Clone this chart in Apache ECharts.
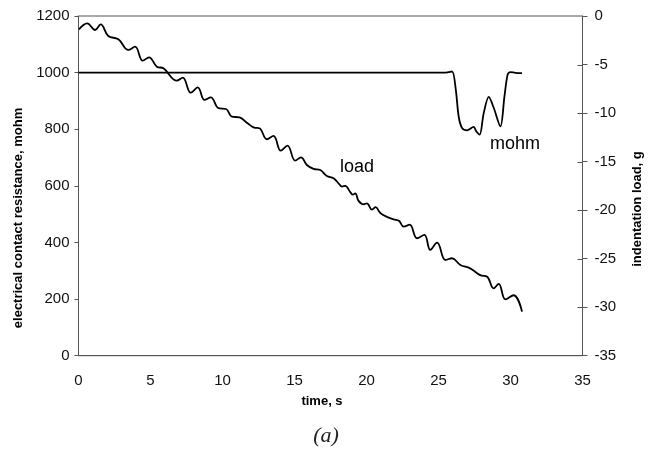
<!DOCTYPE html>
<html>
<head>
<meta charset="utf-8">
<script src="https://cdn.jsdelivr.net/npm/echarts@6/dist/echarts.min.js"></script>
<style>
  html, body { margin: 0; padding: 0; background: #fff; }
  #chart { width: 648px; height: 449px; }
</style>
</head>
<body>
<div id="chart"></div>
<script>
// time (s) and electrical contact resistance (mohm)
const resistanceTime = [0, 25.5, 25.94, 26.2, 26.4, 26.64, 26.98, 27.44, 27.63, 27.86, 28.14, 28.49, 28.84, 29.3, 29.58, 29.8, 29.99, 30.34, 30.8];
const resistanceMohm = [1000, 1000, 1004, 940, 845, 804, 796, 808, 792, 781, 857, 914, 875, 810, 916, 993, 1002, 999, 998];

// time (s) and indentation load (g)
const loadTime = [0.03, 0.61, 1.15, 1.54, 2.07, 2.77, 3.46, 3.93, 4.46, 4.9, 5.44, 5.9, 6.83, 7.24, 7.8, 8.28, 8.75, 9.19, 9.72, 10.25, 10.65, 11.18, 11.69, 12.2, 12.57, 13.08, 13.54, 14.05, 14.51, 15.05, 15.45, 15.86, 16.32, 16.79, 17.25, 17.71, 18.06, 18.3, 18.52, 18.9, 19.05, 19.22, 19.45, 19.8, 20.03, 20.38, 20.63, 20.96, 21.42, 21.88, 22.25, 22.58, 23.0, 23.51, 24.02, 24.43, 24.9, 25.48, 25.94, 26.52, 27.2, 27.9, 28.38, 28.83, 29.18, 29.65, 30.22, 30.8];
const loadGrams = [-1.37, -0.75, -1.44, -0.86, -2.06, -2.4, -3.5, -3.16, -4.6, -4.26, -5.22, -5.39, -6.66, -6.35, -7.9, -7.35, -8.65, -8.38, -9.5, -9.58, -10.37, -10.44, -10.99, -11.5, -11.57, -12.7, -12.36, -13.88, -13.36, -14.9, -14.56, -15.35, -15.75, -15.87, -16.48, -16.72, -17.24, -17.58, -17.5, -18.2, -18.4, -18.27, -19.05, -19.4, -19.3, -19.95, -19.7, -20.3, -20.7, -20.95, -21.1, -21.7, -21.5, -22.9, -22.56, -24.1, -23.35, -25.14, -24.96, -25.65, -26.0, -26.7, -26.86, -28.06, -27.6, -29.2, -28.77, -30.46];

const xTicks = { min: 0, max: 35, step: 5 };
const leftTicks = { min: 0, max: 1200, step: 200 };
const rightTicks = { min: -35, max: 0, step: 5 };

const axisGrey = '#555';
const plotLeft = 78.5, plotRight = 65.5, plotTop = 16, plotBottom = 93.3;
const tickFont = { fontFamily: 'Liberation Sans', fontSize: 15, color: '#111', formatter: v => String(v) };

const chart = echarts.init(document.getElementById('chart'), null, { renderer: 'canvas' });

const labels = [
  { type: 'text', left: 340, top: 158, style: { text: 'load', font: '18px "Liberation Sans"', fill: '#000' } },
  { type: 'text', left: 490, top: 135, style: { text: 'mohm', font: '18px "Liberation Sans"', fill: '#000' } },
  { type: 'text', x: 322, y: 401, style: { text: 'time, s', font: 'bold 13px "Liberation Sans"', fill: '#000', align: 'center', verticalAlign: 'middle' } },
  { type: 'text', x: 18, y: 218, rotation: Math.PI / 2, style: { text: 'electrical contact resistance, mohm', font: 'bold 13px "Liberation Sans"', fill: '#000', align: 'center', verticalAlign: 'middle' } },
  { type: 'text', x: 637, y: 209, rotation: Math.PI / 2, style: { text: 'indentation load, g', font: 'bold 13px "Liberation Sans"', fill: '#000', align: 'center', verticalAlign: 'middle' } },
  { type: 'text', x: 326, y: 436, style: { text: '(a)', font: 'italic 22px "Liberation Serif"', fill: '#222', align: 'center', verticalAlign: 'middle' } }
];

chart.setOption({
  animation: false,
  backgroundColor: '#fff',
  grid: { left: plotLeft, right: plotRight, top: plotTop, bottom: plotBottom, show: true, borderColor: axisGrey, borderWidth: 1 },
  xAxis: {
    type: 'value', min: xTicks.min, max: xTicks.max, interval: xTicks.step,
    axisLine: { show: true, lineStyle: { color: axisGrey, width: 1 } },
    axisTick: { show: false },
    splitLine: { show: false },
    axisLabel: Object.assign({ margin: 18 }, tickFont)
  },
  yAxis: [
    {
      type: 'value', position: 'left', min: leftTicks.min, max: leftTicks.max, interval: leftTicks.step,
      axisLine: { show: true, lineStyle: { color: axisGrey, width: 1 } },
      axisTick: { show: true, length: 4, lineStyle: { color: axisGrey } },
      splitLine: { show: false },
      axisLabel: Object.assign({ margin: 9 }, tickFont)
    },
    {
      type: 'value', position: 'right', min: rightTicks.min, max: rightTicks.max, interval: rightTicks.step,
      axisLine: { show: true, lineStyle: { color: axisGrey, width: 1 } },
      axisTick: { show: true, length: 5, lineStyle: { color: axisGrey } },
      splitLine: { show: false },
      axisLabel: Object.assign({ margin: 12 }, tickFont)
    }
  ],
  series: [
    {
      name: 'mohm', type: 'line', yAxisIndex: 0, smooth: 0.3, symbol: 'none',
      lineStyle: { color: '#000', width: 1.8 },
      data: resistanceTime.map((t, i) => [t, resistanceMohm[i]])
    },
    {
      name: 'load', type: 'line', yAxisIndex: 1, smooth: 0.4, symbol: 'none',
      lineStyle: { color: '#000', width: 1.8 },
      data: loadTime.map((t, i) => [t, loadGrams[i]])
    }
  ],
  graphic: labels
});

// inward half of the crossing ticks on the load axis, placed through the axis scales
const edgeX = chart.convertToPixel({ xAxisIndex: 0 }, xTicks.max);
const innerTicks = [];
for (let v = rightTicks.min + rightTicks.step; v < rightTicks.max; v += rightTicks.step) {
  const y = Math.round(chart.convertToPixel({ yAxisIndex: 1 }, v)) + 0.5;
  innerTicks.push({
    type: 'line', silent: true,
    shape: { x1: edgeX - 5, y1: y, x2: edgeX, y2: y },
    style: { stroke: axisGrey, lineWidth: 1 }
  });
}
chart.setOption({ graphic: labels.concat(innerTicks) });
</script>
</body>
</html>
